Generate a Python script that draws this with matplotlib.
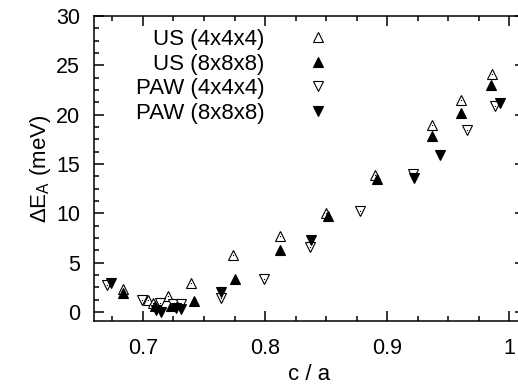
import matplotlib
matplotlib.use("Agg")
import matplotlib.pyplot as plt
from matplotlib.ticker import MultipleLocator, AutoMinorLocator

plt.rcParams["font.family"] = ["Liberation Sans", "DejaVu Sans"]
plt.rcParams["mathtext.fontset"] = "custom"
plt.rcParams["mathtext.rm"] = "Liberation Sans"
plt.rcParams["mathtext.it"] = "Liberation Sans:italic"

# c/a ratio and activation energy difference (meV) for each setup
us4_ca = [0.684, 0.704, 0.708, 0.7205, 0.739, 0.7736, 0.812, 0.850, 0.8896, 0.9365, 0.9606, 0.986]
us4_de = [2.3, 1.2, 0.9, 1.6, 2.9, 5.8, 7.7, 10.0, 13.9, 19.0, 21.5, 24.1]

us8_ca = [0.684, 0.710, 0.723, 0.742, 0.775, 0.812, 0.8514, 0.8915, 0.9365, 0.960, 0.985]
us8_de = [1.9, 0.6, 0.6, 1.1, 3.3, 6.3, 9.7, 13.5, 17.8, 20.2, 23.0]

paw4_ca = [0.671, 0.699, 0.714, 0.7245, 0.731, 0.764, 0.799, 0.8364, 0.8773, 0.921, 0.9655, 0.988]
paw4_de = [2.7, 1.2, 0.9, 0.8, 0.8, 1.4, 3.3, 6.6, 10.2, 14.0, 18.4, 20.9]

paw8_ca = [0.674, 0.711, 0.715, 0.727, 0.731, 0.764, 0.8378, 0.9218, 0.9428, 0.992]
paw8_de = [2.9, 0.25, 0.05, 0.4, 0.3, 2.0, 7.3, 13.6, 15.9, 21.2]

labels = ["US (4x4x4)", "US (8x8x8)", "PAW (4x4x4)", "PAW (8x8x8)"]

fig = plt.figure(figsize=(5.18, 3.85), dpi=100)
ax = fig.add_axes([0.1815, 0.1662, 0.8312, 0.7922])

ms = 6.5
ax.plot(us4_ca, us4_de, "^", ms=ms, mfc="white", mec="black", mew=0.8, label=labels[0])
ax.plot(us8_ca, us8_de, "^", ms=ms, mfc="black", mec="black", mew=0.8, label=labels[1])
ax.plot(paw4_ca, paw4_de, "v", ms=ms, mfc="white", mec="black", mew=0.8, label=labels[2])
ax.plot(paw8_ca, paw8_de, "v", ms=ms, mfc="black", mec="black", mew=0.8, label=labels[3])
# centre dots on the open symbols
ax.plot(us4_ca, us4_de, "s", ms=0.8, mfc="black", mec="none")
ax.plot(paw4_ca, paw4_de, "s", ms=0.8, mfc="black", mec="none")

ax.set_xlim(0.66, 1.0124)
ax.set_ylim(-0.91, 30)
ax.xaxis.set_major_locator(MultipleLocator(0.1))
ax.xaxis.set_minor_locator(AutoMinorLocator(4))
ax.yaxis.set_major_locator(MultipleLocator(5))
ax.yaxis.set_minor_locator(AutoMinorLocator(4))
ax.xaxis.set_major_formatter(plt.FuncFormatter(lambda v, p: f"{v:g}"))

ax.tick_params(which="both", direction="in", top=True, right=True, labelsize=15.5, width=1.1)
ax.tick_params(which="major", length=7)
ax.tick_params(which="minor", length=3.5)
ax.tick_params(axis="x", pad=12)
ax.tick_params(axis="y", pad=10)
for sp in ax.spines.values():
    sp.set_linewidth(1.1)

ax.set_xlabel("c / a", fontsize=16, labelpad=4)
ax.set_ylabel(r"ΔE$_\mathrm{A}$ (meV)", fontsize=16, labelpad=2)

leg = ax.legend(loc="upper right", bbox_to_anchor=(340 / 518, 1 - 29 / 385),
                bbox_transform=fig.transFigure, frameon=False, markerfirst=False,
                fontsize=16, handlelength=2, handletextpad=1.4, labelspacing=0.16,
                borderpad=0, borderaxespad=0, numpoints=1)

fig.savefig("out.png", dpi=100)
